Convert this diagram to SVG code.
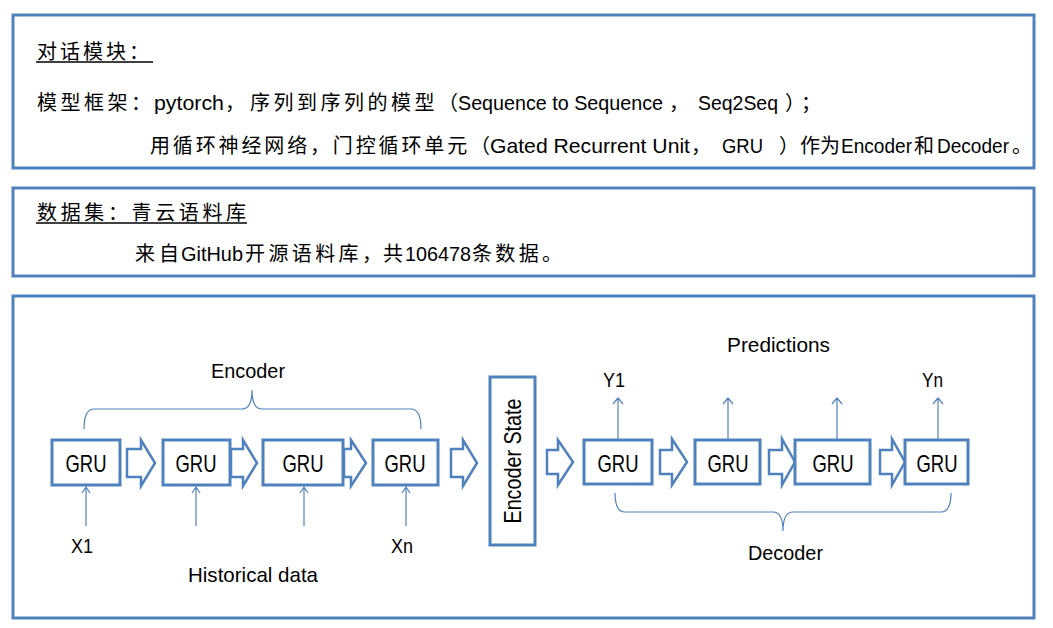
<svg xmlns="http://www.w3.org/2000/svg" width="1053" height="628" viewBox="0 0 1053 628">
<style>
.panel{fill:#fff;stroke:#4F81BD;stroke-width:3}
.cn{font-family:"Noto Sans CJK SC","Liberation Sans",sans-serif;font-size:20px;fill:#000}
.lt{font-family:"Liberation Sans Narrow","Liberation Sans",sans-serif;font-size:21px;fill:#000}
.box{fill:#fff;stroke:#4F81BD;stroke-width:3}
.blk{fill:#fff;stroke:#4F81BD;stroke-width:2.5;stroke-linejoin:miter}
.thin{fill:none;stroke:#4F81BD;stroke-width:1.2}
.lbl{font-family:"Liberation Sans Narrow","Liberation Sans",sans-serif;font-size:21px;fill:#000}
.gru{font-family:"Liberation Sans Narrow","Liberation Sans",sans-serif;font-size:24px;fill:#000;text-anchor:middle}
.ul{stroke:#000;stroke-width:1.5}
</style>
<rect width="1053" height="628" fill="#fff"/>

<g id="panel-dialog">
<rect class="panel" x="13" y="15" width="1021" height="153"/>
<text class="cn" x="37" y="59" textLength="112" lengthAdjust="spacing">对话模块：</text>
<line class="ul" x1="36" y1="62" x2="153" y2="62"/>
<text class="cn" x="37" y="110" textLength="114" lengthAdjust="spacing">模型框架：</text>
<text class="lt" x="154" y="110" textLength="70" lengthAdjust="spacingAndGlyphs">pytorch</text>
<text class="cn" x="225" y="110">，</text>
<text class="cn" x="250" y="110" textLength="208" lengthAdjust="spacing">序列到序列的模型（</text>
<text class="lt" x="458" y="110" font-size="18.5" textLength="205" lengthAdjust="spacingAndGlyphs">Sequence to Sequence</text>
<text class="cn" x="669" y="110">，</text>
<text class="lt" x="698" y="110" textLength="80" lengthAdjust="spacingAndGlyphs">Seq2Seq</text>
<text class="cn" x="785" y="110" textLength="36" lengthAdjust="spacing">）；</text>
<text class="cn" x="150" y="153" textLength="340" lengthAdjust="spacing">用循环神经网络，门控循环单元（</text>
<text class="lt" x="490" y="153" textLength="200" lengthAdjust="spacingAndGlyphs">Gated Recurrent Unit</text>
<text class="cn" x="691" y="153">，</text>
<text class="lt" x="722" y="153" textLength="41" lengthAdjust="spacingAndGlyphs">GRU</text>
<text class="cn" x="779" y="153">）</text>
<text class="cn" x="800" y="153" textLength="40" lengthAdjust="spacing">作为</text>
<text class="lt" x="841" y="153" font-size="17.5" textLength="71" lengthAdjust="spacingAndGlyphs">Encoder</text>
<text class="cn" x="914" y="153" textLength="20" lengthAdjust="spacingAndGlyphs">和</text>
<text class="lt" x="937" y="153" font-size="17.2" textLength="72" lengthAdjust="spacingAndGlyphs">Decoder</text>
<text class="cn" x="1012" y="153">。</text>
</g>

<g id="panel-dataset">
<rect class="panel" x="13" y="188" width="1021" height="88"/>
<text class="cn" x="37" y="220" textLength="209" lengthAdjust="spacing">数据集：青云语料库</text>
<line class="ul" x1="36" y1="223" x2="247" y2="223"/>
<text class="cn" x="135" y="261" textLength="44" lengthAdjust="spacing">来自</text>
<text class="lt" x="181" y="261" textLength="62" lengthAdjust="spacingAndGlyphs">GitHub</text>
<text class="cn" x="245" y="261" textLength="137" lengthAdjust="spacing">开源语料库，</text>
<text class="cn" x="383" y="261">共</text>
<text class="lt" x="405" y="261" textLength="66" lengthAdjust="spacingAndGlyphs">106478</text>
<text class="cn" x="472" y="261" textLength="90" lengthAdjust="spacing">条数据。</text>
</g>

<g id="panel-model">
<rect class="panel" x="13" y="296" width="1021" height="322"/>
</g>

<g id="connectors">
<polygon class="blk" points="127,449 141,449 141,440 155,463 141,486 141,477 127,477"/>
<polygon class="blk" points="231,449 243,449 243,440 257,463 243,486 243,477 231,477"/>
<polygon class="blk" points="344,449 351,449 351,440 366,463 351,486 351,477 344,477"/>
<polygon class="blk" points="451,449 463,449 463,440 477,463 463,486 463,477 451,477"/>
<polygon class="blk" points="547,450 558,450 558,440 573,462 558,485 558,474 547,474"/>
<polygon class="blk" points="660,450 672,450 672,439 687,462 672,485 672,474 660,474"/>
<polygon class="blk" points="769,450 782,450 782,439 795,462 782,485 782,474 769,474"/>
<polygon class="blk" points="880,450 892,450 892,439 905,462 892,485 892,474 880,474"/>
<path class="thin" d="M86,526 V487 M82,493 L86,487 L90,493"/>
<path class="thin" d="M196,526 V487 M192,493 L196,487 L200,493"/>
<path class="thin" d="M304,526 V487 M300,493 L304,487 L308,493"/>
<path class="thin" d="M406,526 V487 M402,493 L406,487 L410,493"/>
<path class="thin" d="M618,440 V398 M613,404 L618,398 L623,404"/>
<path class="thin" d="M728,440 V398 M723,404 L728,398 L733,404"/>
<path class="thin" d="M837,440 V398 M832,404 L837,398 L842,404"/>
<path class="thin" d="M938,440 V398 M933,404 L938,398 L943,404"/>
<path class="thin" d="M84,429 Q84,409 94,409 L242,409 Q252,409 252,390 Q252,409 262,409 L411,409 Q421,409 421,429"/>
<path class="thin" d="M615,493 Q615,512 625,512 L773,512 Q783,512 783,531 Q783,512 793,512 L941,512 Q951,512 951,493"/>
</g>

<g id="enc-gru1"><rect class="box" x="52" y="440" width="68" height="45"/><text class="gru" x="86" y="472" textLength="41" lengthAdjust="spacingAndGlyphs">GRU</text></g>
<g id="enc-gru2"><rect class="box" x="163" y="440" width="67" height="45"/><text class="gru" x="196" y="472" textLength="41" lengthAdjust="spacingAndGlyphs">GRU</text></g>
<g id="enc-gru3"><rect class="box" x="263" y="440" width="80" height="45"/><text class="gru" x="303" y="472" textLength="41" lengthAdjust="spacingAndGlyphs">GRU</text></g>
<g id="enc-gru4"><rect class="box" x="373" y="440" width="65" height="45"/><text class="gru" x="405" y="472" textLength="41" lengthAdjust="spacingAndGlyphs">GRU</text></g>

<g id="encoder-state"><rect class="box" x="490" y="377" width="45" height="168"/><text class="gru" transform="translate(521,461) rotate(-90)" font-size="22" textLength="125" lengthAdjust="spacingAndGlyphs">Encoder State</text></g>

<g id="dec-gru1"><rect class="box" x="584" y="440" width="68" height="44"/><text class="gru" x="618" y="472" textLength="41" lengthAdjust="spacingAndGlyphs">GRU</text></g>
<g id="dec-gru2"><rect class="box" x="695" y="440" width="65" height="44"/><text class="gru" x="728" y="472" textLength="41" lengthAdjust="spacingAndGlyphs">GRU</text></g>
<g id="dec-gru3"><rect class="box" x="795" y="440" width="75" height="44"/><text class="gru" x="833" y="472" textLength="41" lengthAdjust="spacingAndGlyphs">GRU</text></g>
<g id="dec-gru4"><rect class="box" x="905" y="440" width="63" height="44"/><text class="gru" x="937" y="472" textLength="41" lengthAdjust="spacingAndGlyphs">GRU</text></g>

<g id="labels">
<text class="lbl" x="211" y="378" textLength="74" lengthAdjust="spacingAndGlyphs">Encoder</text>
<text class="lbl" x="71" y="553" textLength="22" lengthAdjust="spacingAndGlyphs">X1</text>
<text class="lbl" x="391" y="553" textLength="22" lengthAdjust="spacingAndGlyphs">Xn</text>
<text class="lbl" x="188" y="582" textLength="130" lengthAdjust="spacingAndGlyphs">Historical data</text>
<text class="lbl" x="727" y="352" textLength="103" lengthAdjust="spacingAndGlyphs">Predictions</text>
<text class="lbl" x="603" y="387" textLength="22" lengthAdjust="spacingAndGlyphs">Y1</text>
<text class="lbl" x="922" y="387" textLength="21" lengthAdjust="spacingAndGlyphs">Yn</text>
<text class="lbl" x="748" y="560" textLength="75" lengthAdjust="spacingAndGlyphs">Decoder</text>
</g>
</svg>
